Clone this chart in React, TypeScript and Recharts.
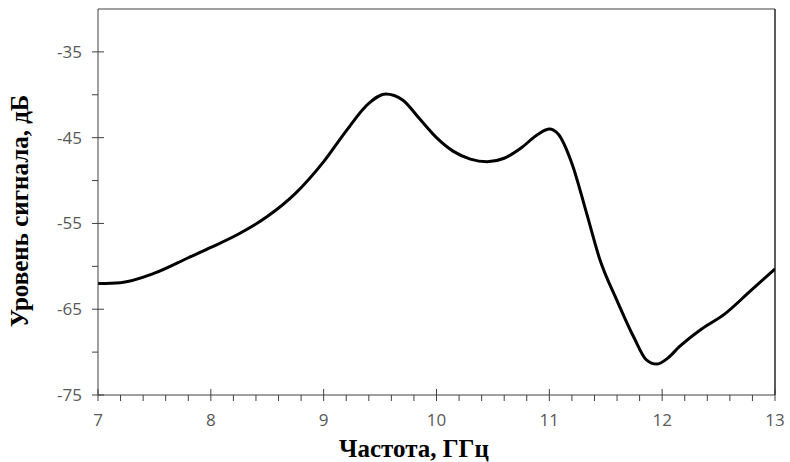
import React from "react";
import { LineChart, Line, XAxis, YAxis, ReferenceLine, Label } from "recharts";

const freqs = [7.0, 7.2, 7.5, 7.8, 8.0, 8.25, 8.5, 8.75, 9.0, 9.2, 9.4, 9.55, 9.7, 9.85, 10.0, 10.15, 10.3, 10.45, 10.6, 10.75, 10.9, 11.0, 11.08, 11.2, 11.33, 11.45, 11.6, 11.75, 11.86, 11.95, 12.05, 12.15, 12.35, 12.55, 12.78, 13.0];
const levels = [-62.0, -61.9, -60.8, -59.0, -57.8, -56.2, -54.2, -51.5, -47.8, -44.2, -41.0, -39.9, -40.6, -42.8, -45.0, -46.6, -47.5, -47.8, -47.4, -46.2, -44.6, -44.0, -44.6, -48.0, -53.8, -59.3, -64.0, -68.3, -70.9, -71.4, -70.7, -69.4, -67.3, -65.6, -62.9, -60.3];

const xMajorTicks = [7, 8, 9, 10, 11, 12, 13];
const xAllTicks = [7, 7.2, 7.4, 7.6, 7.8, 8, 8.2, 8.4, 8.6, 8.8, 9, 9.2, 9.4, 9.6, 9.8, 10, 10.2, 10.4, 10.6, 10.8, 11, 11.2, 11.4, 11.6, 11.8, 12, 12.2, 12.4, 12.6, 12.8, 13];
const yMajorTicks = [-75, -65, -55, -45, -35];
const yAllTicks = [-75, -70, -65, -60, -55, -50, -45, -40, -35];

const xTitle = "Частота,  ГГц";
const yTitle = "Уровень сигнала, дБ";

const data = freqs.map((f, i) => ({ f, v: levels[i] }));

const tickFont = "'Open Sans', 'Liberation Sans', sans-serif";
const titleFont = "'Liberation Serif', 'Times New Roman', serif";

const XTick = (props: any) => {
  const { x, y, payload } = props;
  const major = xMajorTicks.some((t) => Math.abs(t - payload.value) < 1e-6);
  return (
    <g>
      <line x1={x} x2={x} y1={major ? y - 6 : y} y2={y + 6} stroke="#404040" strokeWidth={1} />
      {major && (
        <text x={x} y={y + 31} textAnchor="middle" fill="#595959" fontSize={17} fontFamily={tickFont}>
          {payload.value}
        </text>
      )}
    </g>
  );
};

const YTick = (props: any) => {
  const { x, y, payload } = props;
  const major = yMajorTicks.includes(payload.value);
  return (
    <g>
      <line x1={x - 6} x2={major ? x + 6 : x} y1={y} y2={y} stroke="#404040" strokeWidth={1} />
      {major && (
        <text x={x - 16} y={y + 6} textAnchor="end" fill="#595959" fontSize={17} fontFamily={tickFont}>
          {payload.value}
        </text>
      )}
    </g>
  );
};

export default function App() {
  return (
    <div style={{ position: "absolute", left: 0, top: 0, width: 790, height: 462, background: "#fff" }}>
      <LineChart width={790} height={462} data={data} margin={{ top: 9, right: 15, bottom: 0, left: 38 }}>
        <XAxis
          dataKey="f"
          type="number"
          domain={[7, 13]}
          ticks={xAllTicks}
          interval={0}
          tickSize={0}
          tickMargin={0}
          tickLine={false}
          tick={<XTick />}
          height={67}
          stroke="#404040"
          allowDataOverflow
        >
          <Label
            content={(p: any) => {
              const vb = p.viewBox;
              return (
                <text x={414} y={vb.y + 62} textAnchor="middle" fontFamily={titleFont} fontWeight="bold" fontSize={25} fill="#000">
                  {xTitle}
                </text>
              );
            }}
          />
        </XAxis>
        <YAxis
          type="number"
          domain={[-75, -30]}
          ticks={yAllTicks}
          interval={0}
          tickSize={0}
          tickMargin={0}
          tickLine={false}
          tick={<YTick />}
          width={60}
          stroke="#404040"
          allowDataOverflow
        >
          <Label
            content={() => (
              <text
                x={28}
                y={211}
                transform="rotate(-90 28 211)"
                textAnchor="middle"
                fontFamily={titleFont}
                fontWeight="bold"
                fontSize={25}
                fill="#000"
              >
                {yTitle}
              </text>
            )}
          />
        </YAxis>
        <ReferenceLine y={-30} stroke="#7f7f7f" strokeWidth={1.5} />
        <ReferenceLine x={13} stroke="#262626" strokeWidth={1.5} />
        <Line
          type="monotone"
          dataKey="v"
          stroke="#000"
          strokeWidth={3}
          dot={false}
          isAnimationActive={false}
        />
      </LineChart>
    </div>
  );
}
